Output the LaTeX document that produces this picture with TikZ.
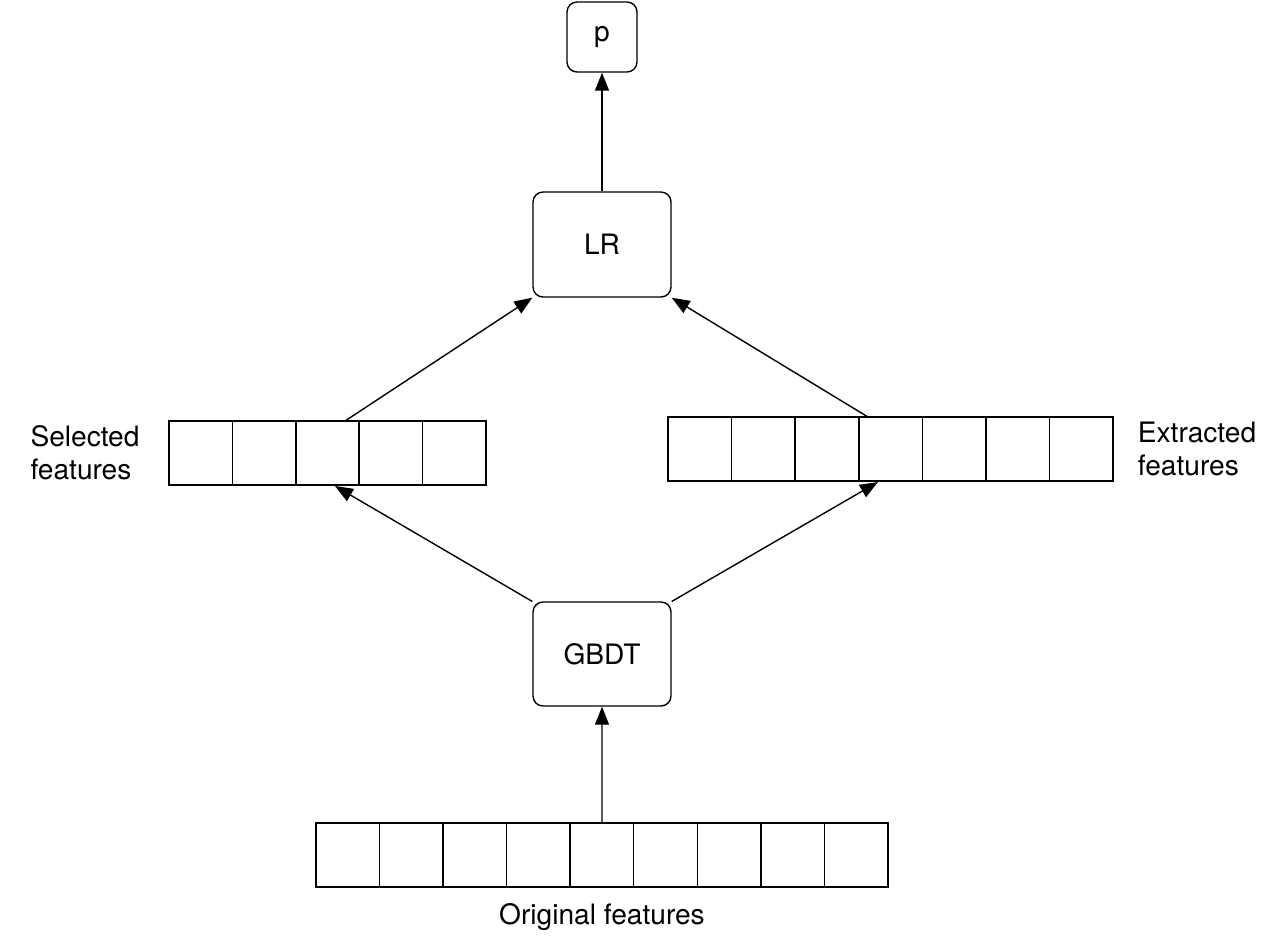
\documentclass[tikz,border=0pt]{standalone}
\usepackage{fontspec}
\setmainfont{TeX Gyre Heros}
\usetikzlibrary{positioning,arrows.meta}

\begin{document}
\begin{tikzpicture}[
                x=0.02cm, y=-0.02cm,
                box/.style={draw, thick, rounded corners=0.2cm, inner sep=0pt},
                cell/.style={draw, thick, minimum width=1.27cm, minimum height=1.28cm, inner sep=0pt},
                flow/.style={-{Triangle[length=0.36cm,width=0.28cm]}, thick},
                every node/.style={font=\fontsize{16}{19}\selectfont}
            ]
            \useasboundingbox (0,0) rectangle (1281,948);

            \node[box, minimum width=1.4cm, minimum height=1.4cm] (p) at (602,37) {p};
            \node[box, minimum width=2.76cm, minimum height=2.1cm] (LR) at (602,244.5) {LR};
            \node[box, minimum width=2.76cm, minimum height=2.08cm] (GBDT) at (602,654) {GBDT};

            % feature vectors
            \foreach \i in {1,...,5}
                \node[cell] (sel\i) at ({169+63.4*(\i-0.5)},453) {};
            \foreach \i in {1,...,7}
                \node[cell] (ext\i) at ({668+63.6*(\i-0.5)},449) {};
            \foreach \i in {1,...,9}
                \node[cell] (orig\i) at ({316+63.55*(\i-0.5)},855) {};

            \node[align=left] (sel_lbl) at (85,453) {Selected\\features};
            \node[align=left] (ext_lbl) at (1197,449) {Extracted\\features};
            \node (orig_lbl) at (602,917) {Original features};

            \coordinate (sel_in) at (335,486);
            \coordinate (sel_out) at (345,421);
            \coordinate (ext_in) at (878,482);
            \coordinate (ext_out) at (868,417);

            \draw[flow] (orig5.north) -- (GBDT.south);
            \draw[flow] (GBDT.north west) ++(0,0.15) -- (sel_in);
            \draw[flow] (GBDT.north east) ++(0,0.15) -- (ext_in);
            \draw[flow] (sel_out) -- (LR.south west);
            \draw[flow] (ext_out) -- (LR.south east);
            \draw[flow] (LR.north) -- (p.south);
        \end{tikzpicture}
\end{document}
